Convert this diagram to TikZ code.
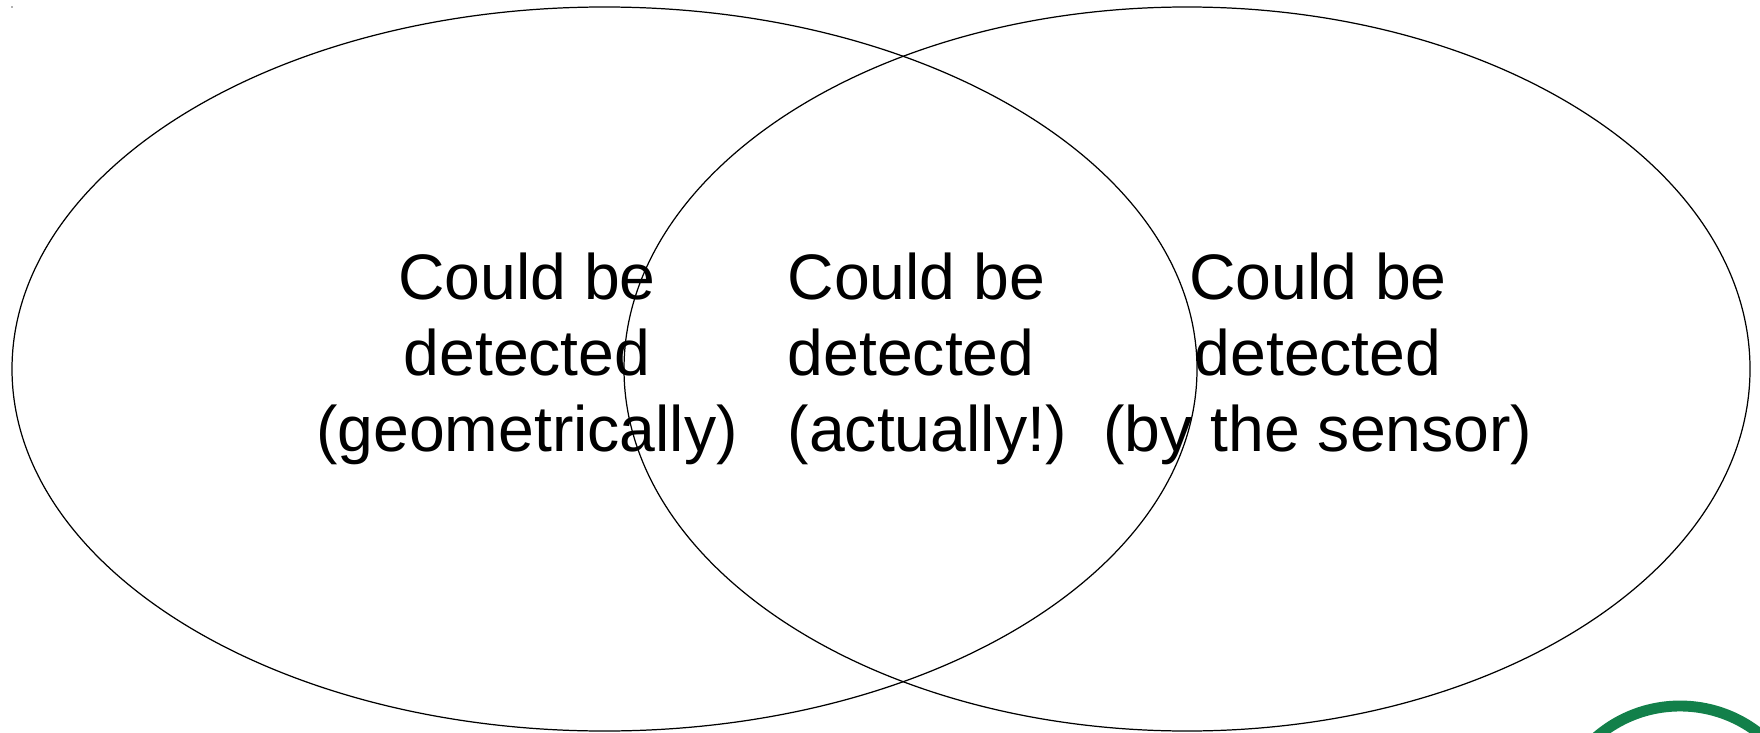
\documentclass[tikz,border=0pt]{standalone}
\usepackage{fontspec}
\setmainfont{Liberation Sans}
\usepackage{tikz}
\definecolor{logogreen}{RGB}{18,128,74}

\begin{document}
\begin{tikzpicture}[x=0.1mm,y=0.1mm,
        venntext/.style={inner sep=0pt,font=\fontsize{18.3pt}{21.6pt}\selectfont}]
        \useasboundingbox (0,0) rectangle (1760,732);
        \clip (0,0) rectangle (1760,732);
        \fill[gray!60] (11,724) rectangle (13,725.5);
        \draw [line width=0.35pt] (604.5,363) ellipse (592.5 and 362);
        \draw [line width=0.35pt] (1187,363) ellipse (563 and 362);
        \node[venntext,align=center,anchor=base] (geom) at (527,281) {Could be\\detected\\(geometrically)};
        \node[venntext,align=left,anchor=base west] (actual) at (787,281) {Could be\\detected\\(actually!)};
        \node[venntext,align=center,anchor=base] (sensor) at (1318,281) {Could be\\detected\\(by the sensor)};
        \draw [logogreen,line width=3.1pt] (1680,-102) circle (128);
     \end{tikzpicture}
\end{document}
